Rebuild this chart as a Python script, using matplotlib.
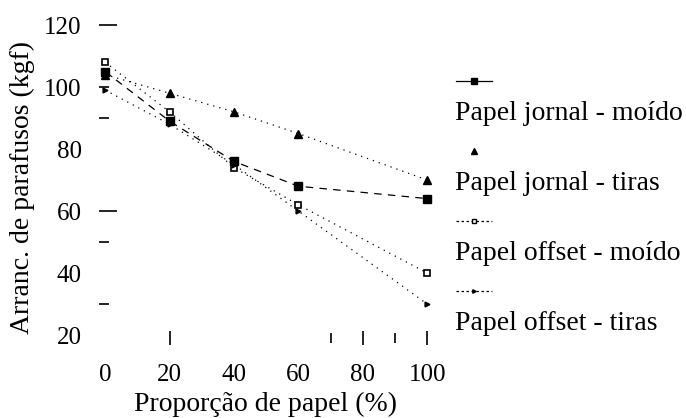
import matplotlib.pyplot as plt
from matplotlib.lines import Line2D

# dados
proporcao = [0, 20, 40, 60, 100]
jornal_moido = [105, 89, 76, 68, 64]
jornal_tiras = [104, 98, 92, 85, 70]
offset_moido = [108, 92, 74, 62, 40]
offset_tiras = [99, 88, 75, 60, 30]

rotulos = ['Papel jornal - moído', 'Papel jornal - tiras',
           'Papel offset - moído', 'Papel offset - tiras']

plt.rcParams['font.family'] = ['Liberation Serif', 'DejaVu Serif']

fig = plt.figure(figsize=(6.86, 4.18), dpi=100)
W, H = 686, 418
# eixos em pixels: x de -5 a 104, y de 20 a 120
ax = fig.add_axes([89 / W, 1 - 335 / H, (440 - 89) / W, 310 / H])

dots = (0, (1, 4))
estilos = [
    dict(ls=(0, (6, 5)), marker='s', ms=6, mfc='k'),
    dict(ls=dots, marker='^', ms=6, mfc='k'),
    dict(ls=dots, marker='s', ms=4.5, mfc='white', mew=1.2),
    dict(ls=dots, marker='>', ms=3.5, mfc='k'),
]
series = [jornal_moido, jornal_tiras, offset_moido, offset_tiras]
for y, st in zip(series, estilos):
    ax.plot(proporcao, y, color='k', lw=0.9, mec='k', clip_on=False, **st)

ax.set_xlim(-5, 104)
ax.set_ylim(20, 120)
for s in ax.spines.values():
    s.set_visible(False)
ax.spines['left'].set_position(('data', -2))
ax.spines['bottom'].set_position(('data', 19))

# marcas de escala (sem rótulos)
ax.set_yticks([60, 120])
ax.set_yticks([30, 50, 90, 100], minor=True)
ax.tick_params(axis='y', which='major', direction='in', length=13, width=1.2,
               labelleft=False)
ax.tick_params(axis='y', which='minor', direction='in', length=7, width=1.2)
ax.set_xticks([20, 80, 100])
ax.set_xticks([70, 90], minor=True)
ax.tick_params(axis='x', which='major', direction='inout', length=10, width=1.2,
               labelbottom=False)
ax.tick_params(axis='x', which='minor', direction='inout', length=7, width=1.2)

# rótulos das escalas
ay = ax.secondary_yaxis(-0.005)
ay.set_yticks([20, 40, 60, 80, 100, 120])
ay.tick_params(length=0, labelsize=18, pad=4)
ay.spines['left'].set_visible(False)
axx = ax.secondary_xaxis(-0.01)
axx.set_xticks([0, 20, 40, 60, 80, 100])
axx.tick_params(length=0, labelsize=18, pad=19)
axx.spines['bottom'].set_visible(False)

fig.text(22 / W, 1 - 187 / H, 'Arranc. de parafusos (kgf)', rotation=90,
         ha='center', va='center', fontsize=20)
fig.text(266 / W, 1 - 404 / H, 'Proporção de papel (%)',
         ha='center', va='center', fontsize=20)

# legenda: amostra acima do texto
amostras = ['-', 'none', (0, (2, 2)), (0, (2, 2))]
for i, (rot, st) in enumerate(zip(rotulos, estilos)):
    ys = 1 - (81 + 70 * i) / H
    yt = 1 - (113 + 70 * i) / H
    ln = Line2D([456 / W, 474 / W, 492 / W], [ys, ys, ys], color='k', lw=0.9,
                ls=amostras[i], marker=st['marker'], markevery=[1],
                ms=st['ms'] - 1, mfc=st['mfc'], mec='k',
                transform=fig.transFigure)
    fig.add_artist(ln)
    fig.text(455 / W, yt, rot, ha='left', va='center', fontsize=20)

fig.savefig('out.png', dpi=100)
